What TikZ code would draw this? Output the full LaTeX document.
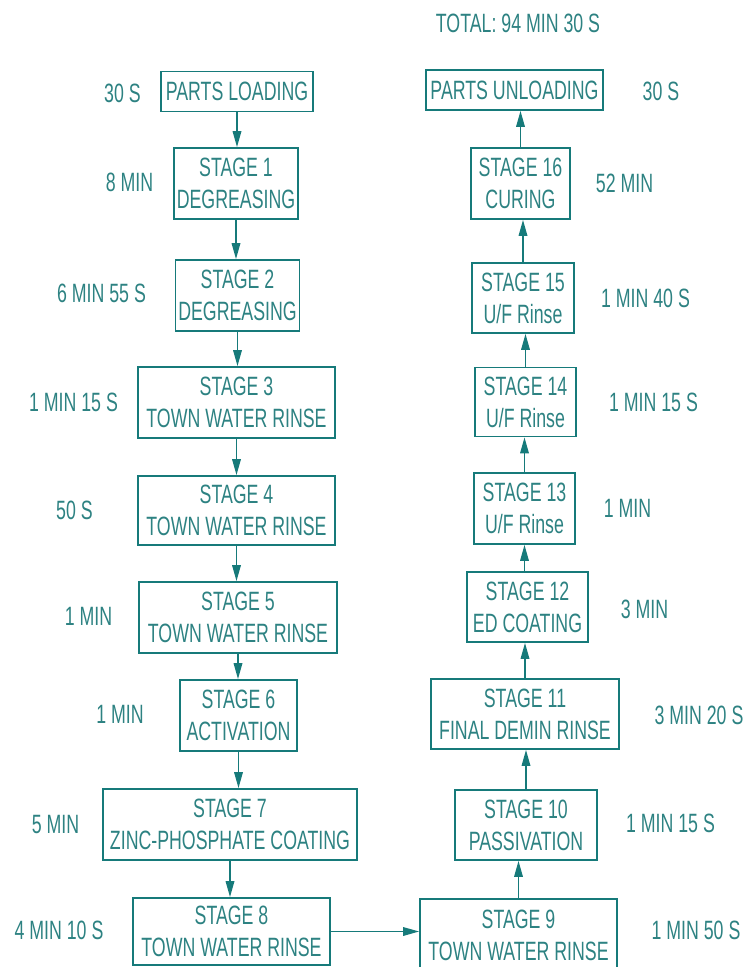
\documentclass[tikz,border=0pt]{standalone}
\usepackage{fontspec}
\setmainfont[FakeStretch=0.67]{Liberation Sans}
\usetikzlibrary{arrows.meta}
\definecolor{tealline}{RGB}{22,122,122}
\definecolor{tealtext}{RGB}{45,130,130}
\begin{document}
\begin{tikzpicture}[x=1pt,y=-1pt,
  every node/.style={font=\fontsize{26.5}{32}\selectfont, text=tealtext, inner sep=0pt},
  box/.style={draw=tealline, line width=1.7pt, align=center, minimum width=#1},
  arr/.style={draw=tealline, line width=1.7pt, -{Triangle[length=16pt,width=8.5pt]}},
  lbl/.style={anchor=center}]
\useasboundingbox (0,0) rectangle (755,967);
% left column
\node[box=152, minimum height=40] (load) at (237,91.5) {PARTS LOADING};
\node[box=124, minimum height=71] (s1) at (236,183.5) {STAGE 1\\DEGREASING};
\node[box=124, minimum height=71] (s2) at (237.5,295.5) {STAGE 2\\DEGREASING};
\node[box=197, minimum height=71] (s3) at (236.5,402.5) {STAGE 3\\TOWN WATER RINSE};
\node[box=197, minimum height=69] (s4) at (236.5,510.5) {STAGE 4\\TOWN WATER RINSE};
\node[box=198, minimum height=71] (s5) at (238,617.5) {STAGE 5\\TOWN WATER RINSE};
\node[box=117, minimum height=71] (s6) at (238.5,715.5) {STAGE 6\\ACTIVATION};
\node[box=254, minimum height=71] (s7) at (230,824.5) {STAGE 7\\ZINC-PHOSPHATE COATING};
\node[box=197, minimum height=67] (s8) at (231.5,931.5) {STAGE 8\\TOWN WATER RINSE};
% right column
\node[box=197, minimum height=72] (s9) at (518.5,935) {STAGE 9\\TOWN WATER RINSE};
\node[box=142, minimum height=70] (s10) at (526,825) {STAGE 10\\PASSIVATION};
\node[box=188, minimum height=70] (s11) at (525,714) {STAGE 11\\FINAL DEMIN RINSE};
\node[box=121, minimum height=70] (s12) at (527.5,607) {STAGE 12\\ED COATING};
\node[box=101, minimum height=71] (s13) at (524.5,508.5) {STAGE 13\\U/F Rinse};
\node[box=101, minimum height=69] (s14) at (525.5,402) {STAGE 14\\U/F Rinse};
\node[box=102, minimum height=70] (s15) at (523,298) {STAGE 15\\U/F Rinse};
\node[box=99, minimum height=71] (s16) at (520.5,183.5) {STAGE 16\\CURING};
\node[box=177, minimum height=40] (unload) at (514.5,90) {PARTS UNLOADING};
% connectors
\draw[arr] (load.south) -- (load.south |- s1.north);
\draw[arr] (s1.south) -- (s1.south |- s2.north);
\draw[arr] (s2.south) -- (s2.south |- s3.north);
\draw[arr] (s3.south) -- (s3.south |- s4.north);
\draw[arr] (s4.south) -- (s4.south |- s5.north);
\draw[arr] (s5.south) -- (s5.south |- s6.north);
\draw[arr] (s6.south) -- (s6.south |- s7.north);
\draw[arr] (s7.south) -- (s7.south |- s8.north);
\draw[arr] (s8.east) -- (s8.east -| s9.west);
\draw[arr] (s9.north) -- (s9.north |- s10.south);
\draw[arr] (s10.north) -- (s10.north |- s11.south);
\draw[arr] (s11.north) -- (s11.north |- s12.south);
\draw[arr] (s13.south |- s12.north) -- (s13.south);
\draw[arr] (s13.north) -- (s13.north |- s14.south);
\draw[arr] (s14.north) -- (s14.north |- s15.south);
\draw[arr] (s15.north) -- (s15.north |- s16.south);
\draw[arr] (s16.north) -- (s16.north |- unload.south);
% labels
\node[lbl] (total) at (518,23) {TOTAL: 94 MIN 30 S};
\node[lbl] (tload) at (122.5,93) {30 S};
\node[lbl] (t1) at (129.5,182) {8 MIN};
\node[lbl] (t2) at (101.5,293) {6 MIN 55 S};
\node[lbl] (t3) at (73.5,402) {1 MIN 15 S};
\node[lbl] (t4) at (74.5,510) {50 S};
\node[lbl] (t5) at (88.5,616) {1 MIN};
\node[lbl] (t6) at (120,714) {1 MIN};
\node[lbl] (t7) at (55.5,825) {5 MIN};
\node[lbl] (t8) at (59,930) {4 MIN 10 S};
\node[lbl] (t9) at (696,930) {1 MIN 50 S};
\node[lbl] (t10) at (670.5,823) {1 MIN 15 S};
\node[lbl] (t11) at (699,715) {3 MIN 20 S};
\node[lbl] (t12) at (644.5,609) {3 MIN};
\node[lbl] (t13) at (627.5,508) {1 MIN};
\node[lbl] (t14) at (653.5,402) {1 MIN 15 S};
\node[lbl] (t15) at (645.5,298) {1 MIN 40 S};
\node[lbl] (t16) at (624.5,183) {52 MIN};
\node[lbl] (tunload) at (661,91) {30 S};
\end{tikzpicture}
\end{document}
